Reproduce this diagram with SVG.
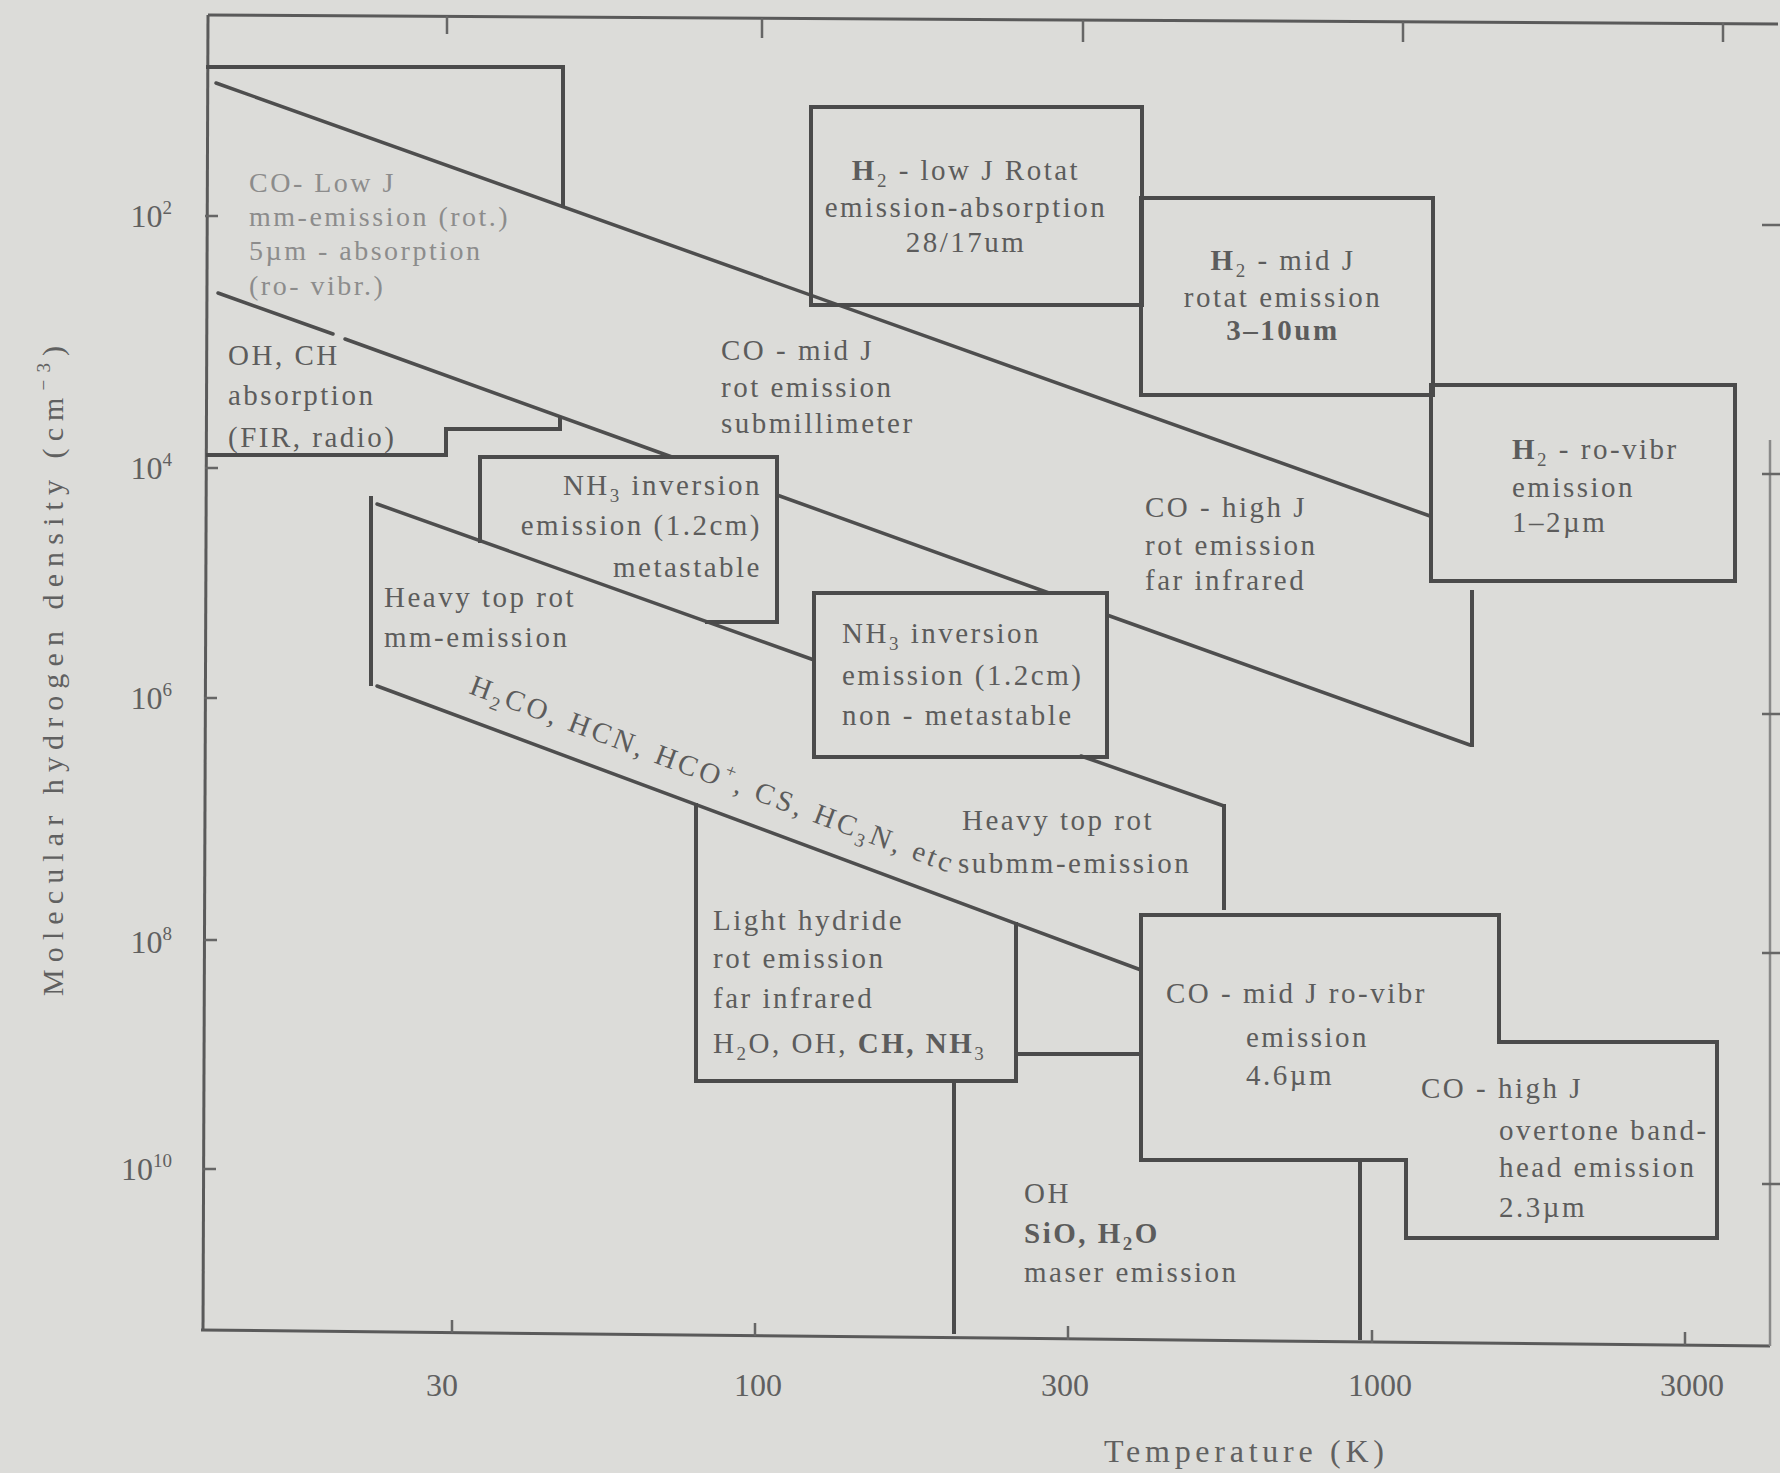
<svg xmlns="http://www.w3.org/2000/svg" width="1780" height="1473" viewBox="0 0 1780 1473">
<style>
.bg{fill:#dcdcd9}
.ln{fill:none;stroke:#4b4b4b;stroke-width:4;stroke-linejoin:miter;stroke-linecap:square}
.dg{fill:none;stroke:#4e4e4e;stroke-width:3.5;stroke-linecap:round}
.ax{fill:none;stroke:#5a5a5a;stroke-width:3}
.axl{fill:none;stroke:#8a8a8a;stroke-width:2.5}
.tk{fill:none;stroke:#666;stroke-width:2.5}
text{font-family:"Liberation Serif","Times New Roman",serif;fill:#5c5c5c}
.t{font-size:29px;letter-spacing:2.5px}
.lt{font-size:28px;letter-spacing:2.5px;fill:#8c8c8c}
.b{font-weight:bold}
.al{font-size:32px;fill:#606060}
.sub{font-size:19px;baseline-shift:-7px}
.sup{font-size:19px;baseline-shift:13px}
</style>
<rect class="bg" x="0" y="0" width="1780" height="1473"/>

<g id="axes">
  <path class="ax" d="M208,15 L1778,24"/>
  <path class="ax" d="M208,15 L203,1331"/>
  <path class="ax" d="M201,1330 L1770,1346"/>
  <path class="axl" d="M1770,440 L1770,1346"/>
  <path class="tk" d="M447,16 V34 M762,18 V38 M1083,20 V42 M1403,22 V42 M1723,23 V42"/>
  <path class="tk" d="M452,1333 V1320 M755,1336 V1323 M1068,1340 V1326 M1372,1343 V1330 M1685,1345 V1332"/>
  <path class="tk" d="M205,216 H218 M205,468 H218 M204,698 H217 M204,940 H217 M203,1169 H216"/>
  <path class="tk" d="M1762,225 H1780 M1762,474 H1780 M1762,714 H1780 M1762,953 H1780 M1762,1184 H1780"/>
  <text class="al" x="172" y="227" text-anchor="end">10<tspan class="sup">2</tspan></text>
  <text class="al" x="172" y="479" text-anchor="end">10<tspan class="sup">4</tspan></text>
  <text class="al" x="172" y="709" text-anchor="end">10<tspan class="sup">6</tspan></text>
  <text class="al" x="172" y="953" text-anchor="end">10<tspan class="sup">8</tspan></text>
  <text class="al" x="172" y="1180" text-anchor="end">10<tspan class="sup">10</tspan></text>
  <text class="al" x="442" y="1396" text-anchor="middle">30</text>
  <text class="al" x="758" y="1396" text-anchor="middle">100</text>
  <text class="al" x="1065" y="1396" text-anchor="middle">300</text>
  <text class="al" x="1380" y="1396" text-anchor="middle">1000</text>
  <text class="al" x="1692" y="1396" text-anchor="middle">3000</text>
  <text class="al" x="1244" y="1462" text-anchor="middle" textLength="280" lengthAdjust="spacing">Temperature (K)</text>
  <text class="al" transform="translate(63,671) rotate(-90)" text-anchor="middle" textLength="650" lengthAdjust="spacing" style="font-size:30px">Molecular hydrogen density (cm<tspan class="sup">−3</tspan>)</text>
</g>

<g id="connectors">
  <path class="dg" d="M216,83 L1430,516"/>
  <path class="dg" d="M218,293 L333,334"/>
  <path class="dg" d="M345,339 L672,457"/>
  <path class="dg" d="M777,495 L1049,593"/>
  <path class="dg" d="M1107,615 L1470,745"/>
  <path class="dg" d="M377,504 L814,660"/>
  <path class="dg" d="M1081,756 L1224,806"/>
  <path class="dg" d="M377,686 L1141,970"/>
</g>

<g id="co-low-j">
  <path class="ln" d="M208,67 H563 V206"/>
  <text class="lt" x="249" y="192">CO- Low J</text>
  <text class="lt" x="249" y="226">mm-emission (rot.)</text>
  <text class="lt" x="249" y="260">5µm - absorption</text>
  <text class="lt" x="249" y="295">(ro- vibr.)</text>
</g>

<g id="oh-ch">
  <path class="ln" d="M208,455 H446 V429 H560 V418"/>
  <text class="t" x="228" y="365">OH, CH</text>
  <text class="t" x="228" y="405">absorption</text>
  <text class="t" x="228" y="447">(FIR, radio)</text>
</g>

<g id="co-mid-j-rot">
  <text class="t b" x="721" y="360" style="font-weight:normal">CO - mid J</text>
  <text class="t" x="721" y="397">rot emission</text>
  <text class="t" x="721" y="433">submillimeter</text>
</g>

<g id="h2-low-j">
  <rect class="ln" x="811" y="107" width="331" height="198"/>
  <text class="t" x="966" y="180" text-anchor="middle"><tspan class="b">H</tspan><tspan class="sub">2</tspan> - low J Rotat</text>
  <text class="t" x="966" y="217" text-anchor="middle">emission-absorption</text>
  <text class="t" x="966" y="252" text-anchor="middle">28/17um</text>
</g>

<g id="h2-mid-j">
  <rect class="ln" x="1141" y="198" width="292" height="197"/>
  <text class="t" x="1283" y="270" text-anchor="middle"><tspan class="b">H</tspan><tspan class="sub">2</tspan> - mid J</text>
  <text class="t" x="1283" y="307" text-anchor="middle">rotat emission</text>
  <text class="t b" x="1283" y="340" text-anchor="middle">3–10um</text>
</g>

<g id="h2-ro-vibr">
  <rect class="ln" x="1431" y="385" width="304" height="196"/>
  <text class="t" x="1512" y="459"><tspan class="b">H</tspan><tspan class="sub">2</tspan> - ro-vibr</text>
  <text class="t" x="1512" y="497">emission</text>
  <text class="t" x="1512" y="532">1–2µm</text>
</g>

<g id="co-high-j-rot">
  <path class="ln" d="M1472,745 V592"/>
  <text class="t" x="1145" y="517">CO - high J</text>
  <text class="t" x="1145" y="555">rot emission</text>
  <text class="t" x="1145" y="590">far infrared</text>
</g>

<g id="nh3-metastable">
  <path class="ln" d="M480,541 V457 H777 V622 H707"/>
  <text class="t" x="762" y="495" text-anchor="end">NH<tspan class="sub">3</tspan> inversion</text>
  <text class="t" x="762" y="535" text-anchor="end">emission (1.2cm)</text>
  <text class="t" x="762" y="577" text-anchor="end">metastable</text>
</g>

<g id="heavy-top-mm">
  <path class="ln" d="M371,498 V684"/>
  <text class="t" x="384" y="607">Heavy top rot</text>
  <text class="t" x="384" y="647">mm-emission</text>
</g>

<g id="nh3-non-metastable">
  <rect class="ln" x="814" y="593" width="293" height="164"/>
  <text class="t" x="842" y="643">NH<tspan class="sub">3</tspan> inversion</text>
  <text class="t" x="842" y="685">emission (1.2cm)</text>
  <text class="t" x="842" y="725">non - metastable</text>
</g>

<g id="heavy-molecules">
  <text class="t" transform="translate(468,693) rotate(20.5)" textLength="515" lengthAdjust="spacing">H<tspan class="sub">2</tspan>CO, HCN, HCO<tspan class="sup">+</tspan>, CS, HC<tspan class="sub">3</tspan>N, etc</text>
</g>

<g id="heavy-top-submm">
  <path class="ln" d="M1224,806 V908"/>
  <text class="t" x="962" y="830">Heavy top rot</text>
  <text class="t" x="958" y="873">submm-emission</text>
</g>

<g id="light-hydride">
  <path class="ln" d="M696,805 V1081 H1016 V924"/>
  <path class="ln" d="M1016,1054 H1141"/>
  <text class="t" x="713" y="930">Light hydride</text>
  <text class="t" x="713" y="968">rot emission</text>
  <text class="t" x="713" y="1008">far infrared</text>
  <text class="t" x="713" y="1053">H<tspan class="sub">2</tspan>O, OH, <tspan class="b">CH, NH</tspan><tspan class="sub">3</tspan></text>
</g>

<g id="maser">
  <path class="ln" d="M954,1081 V1332"/>
  <path class="ln" d="M1360,1160 V1338"/>
  <text class="t" x="1024" y="1203">OH</text>
  <text class="t b" x="1024" y="1243">SiO, H<tspan class="sub">2</tspan>O</text>
  <text class="t" x="1024" y="1282">maser emission</text>
</g>

<g id="co-ro-vibr">
  <path class="ln" d="M1141,915 H1499 V1042 H1717 V1238 H1406 V1160 H1141 Z"/>
  <text class="t" x="1166" y="1003">CO - mid J ro-vibr</text>
  <text class="t" x="1246" y="1047">emission</text>
  <text class="t" x="1246" y="1085">4.6µm</text>
  <text class="t" x="1421" y="1098">CO - high J</text>
  <text class="t" x="1499" y="1140">overtone band-</text>
  <text class="t" x="1499" y="1177">head emission</text>
  <text class="t" x="1499" y="1217">2.3µm</text>
</g>
</svg>
